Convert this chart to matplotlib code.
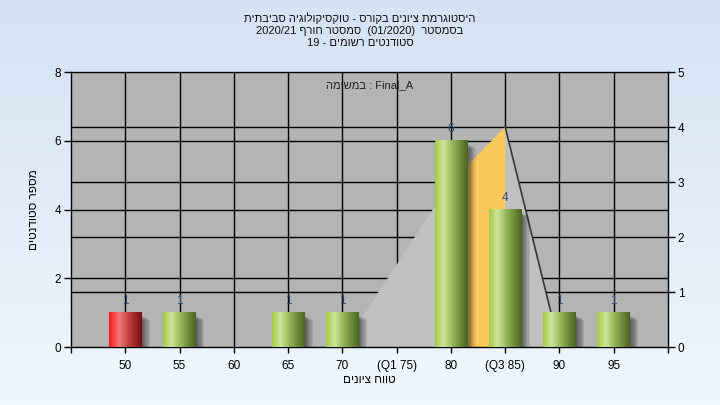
import re
import numpy as np
import matplotlib
matplotlib.use("Agg")
import matplotlib.pyplot as plt
from matplotlib.colors import LinearSegmentedColormap
from matplotlib.patches import Polygon, Rectangle

plt.rcParams['font.family'] = ['Liberation Sans', 'DejaVu Sans']

# data
labels = ['50', '55', '60', '65', '70', '(Q1 75)', '80', '(Q3 85)', '90', '95']
counts = [1, 1, 0, 1, 1, 0, 6, 4, 1, 1]
failed = [True] + [False] * 9
# light gray shape and orange box, on the right axis (0-5)
shape_pos = [4, 6, 7, 8]
shape_val = [0, 3, 4, 0]
box_pos = [6, 7]
box_val = [3, 4]

title_lines = ["היסטוגרמת ציונים בקורס - טוקסיקולוגיה סביבתית",
               "בסמסטר  (01/2020)  סמסטר חורף 2020/21",
               "סטודנטים רשומים - 19"]
task_text = "במשימה : Final_A"
ylabel = "מספר סטודנטים"
xlabel = "טווח ציונים"

HEB = r'[\u0590-\u05FF]+'


def vis(s):
    # ltr line: flip only the hebrew runs
    return re.sub(HEB + r'(?:\s+' + HEB + r')*', lambda m: m.group(0)[::-1], s)


def rtl(s):
    # rtl line: reverse the token order, hebrew tokens flipped, numbers kept
    toks = re.findall(HEB + r'|[^\u0590-\u05FF\s]+|\s+', s)
    return ''.join(t[::-1] if re.match(HEB, t) else t for t in toks[::-1])


fig = plt.figure(figsize=(7.2, 4.05), dpi=100)

# background gradient
bg = fig.add_axes([0, 0, 1, 1], zorder=-10)
bg.imshow(np.linspace(0, 1, 100).reshape(-1, 1),
          cmap=LinearSegmentedColormap.from_list('bg', ['#d5e2f3', '#f0f6fd']),
          aspect='auto', extent=[0, 1, 0, 1])
bg.axis('off')

ax = fig.add_axes([0.0986, 0.1432, 0.8292, 0.6790])
ax.set_facecolor('#b4b4b4')
ymax_l, ymax_r = 8, 5
k = ymax_l / ymax_r

# grid
for x in range(len(labels)):
    ax.axvline(x, color='black', lw=1, zorder=1)
for y in range(2, ymax_l, 2):
    ax.axhline(y, color='black', lw=1, zorder=1)
for y in range(1, ymax_r):
    ax.axhline(y * k, color='black', lw=1, zorder=1)

# shape behind bars
pts = [(p, v * k) for p, v in zip(shape_pos, shape_val)]
ax.add_patch(Polygon(pts, closed=True, facecolor='#c0c0c0', edgecolor='none', zorder=2))
bpts = [(box_pos[0], 0), (box_pos[0], box_val[0] * k), (box_pos[1], box_val[1] * k), (box_pos[1], 0)]
ax.add_patch(Polygon(bpts, closed=True, facecolor='#fdc95c', edgecolor='none', zorder=2.2))
ax.plot(shape_pos[2:], [v * k for v in shape_val[2:]], color='#383838', lw=1.2, zorder=2.5)

green = LinearSegmentedColormap.from_list('g', [(0, '#a2cb45'), (0.25, '#cfe69c'),
                                                (0.55, '#92b257'), (1, '#4b6520')])
red = LinearSegmentedColormap.from_list('r', [(0, '#ff1515'), (0.3, '#f27a7a'),
                                              (0.6, '#c04040'), (1, '#781010')])
grad = np.linspace(0, 1, 64).reshape(1, -1)
w = 0.6
for i, (c, f) in enumerate(zip(counts, failed)):
    if c == 0:
        continue
    x0 = i - w / 2
    # soft shadow
    for s in range(1, 8):
        ax.add_patch(Rectangle((x0 + 0.018 * s, -0.08), w + 0.004 * s, c - 0.018 * s,
                               facecolor='black', alpha=0.085, edgecolor='none', zorder=3))
    ax.imshow(grad, cmap=red if f else green, aspect='auto',
              extent=[x0, x0 + w, 0, c], zorder=4)
    ax.annotate(str(c), (i, c), xytext=(0, 4), textcoords='offset points',
                ha='center', va='bottom', fontsize=8.5, color='#2b4c6e', zorder=5)

ax.set_xlim(-1, 10)
ax.set_ylim(0, ymax_l)
ax.set_aspect('auto')

ax.set_xticks(range(-1, 11))
ax.set_xticklabels([''] + labels + [''])
ax.set_yticks(range(0, ymax_l + 1, 2))
ax.tick_params(axis='both', direction='out', length=5, width=1, colors='black',
               labelsize=8.5, pad=2)
ax.tick_params(axis='x', length=4, pad=5)
for sp in ax.spines.values():
    sp.set_color('black')
    sp.set_linewidth(1)

ax2 = ax.twinx()
ax2.set_ylim(0, ymax_r)
ax2.set_yticks(range(0, ymax_r + 1))
ax2.tick_params(axis='y', direction='out', length=5, width=1, labelsize=8.5, pad=2)
ax2.patch.set_visible(False)
for sp in ax2.spines.values():
    sp.set_visible(False)

ax.text(0.5, 0.953, vis(task_text), transform=ax.transAxes, ha='center', va='center',
        fontsize=8, color='#202020', zorder=6)

for j, line in enumerate(title_lines):
    fig.text(0.5, 1 - (18 + 12.5 * j) / 405, rtl(line), ha='center', va='center',
             fontsize=8, color='#101010')

fig.text(0.5125, 1 - 380 / 405, rtl(xlabel), ha='center', va='center', fontsize=8.5)
fig.text(0.047, 1 - 210 / 405, rtl(ylabel), ha='center', va='center', rotation=90, fontsize=8.5)

fig.savefig('out.png', dpi=100)
